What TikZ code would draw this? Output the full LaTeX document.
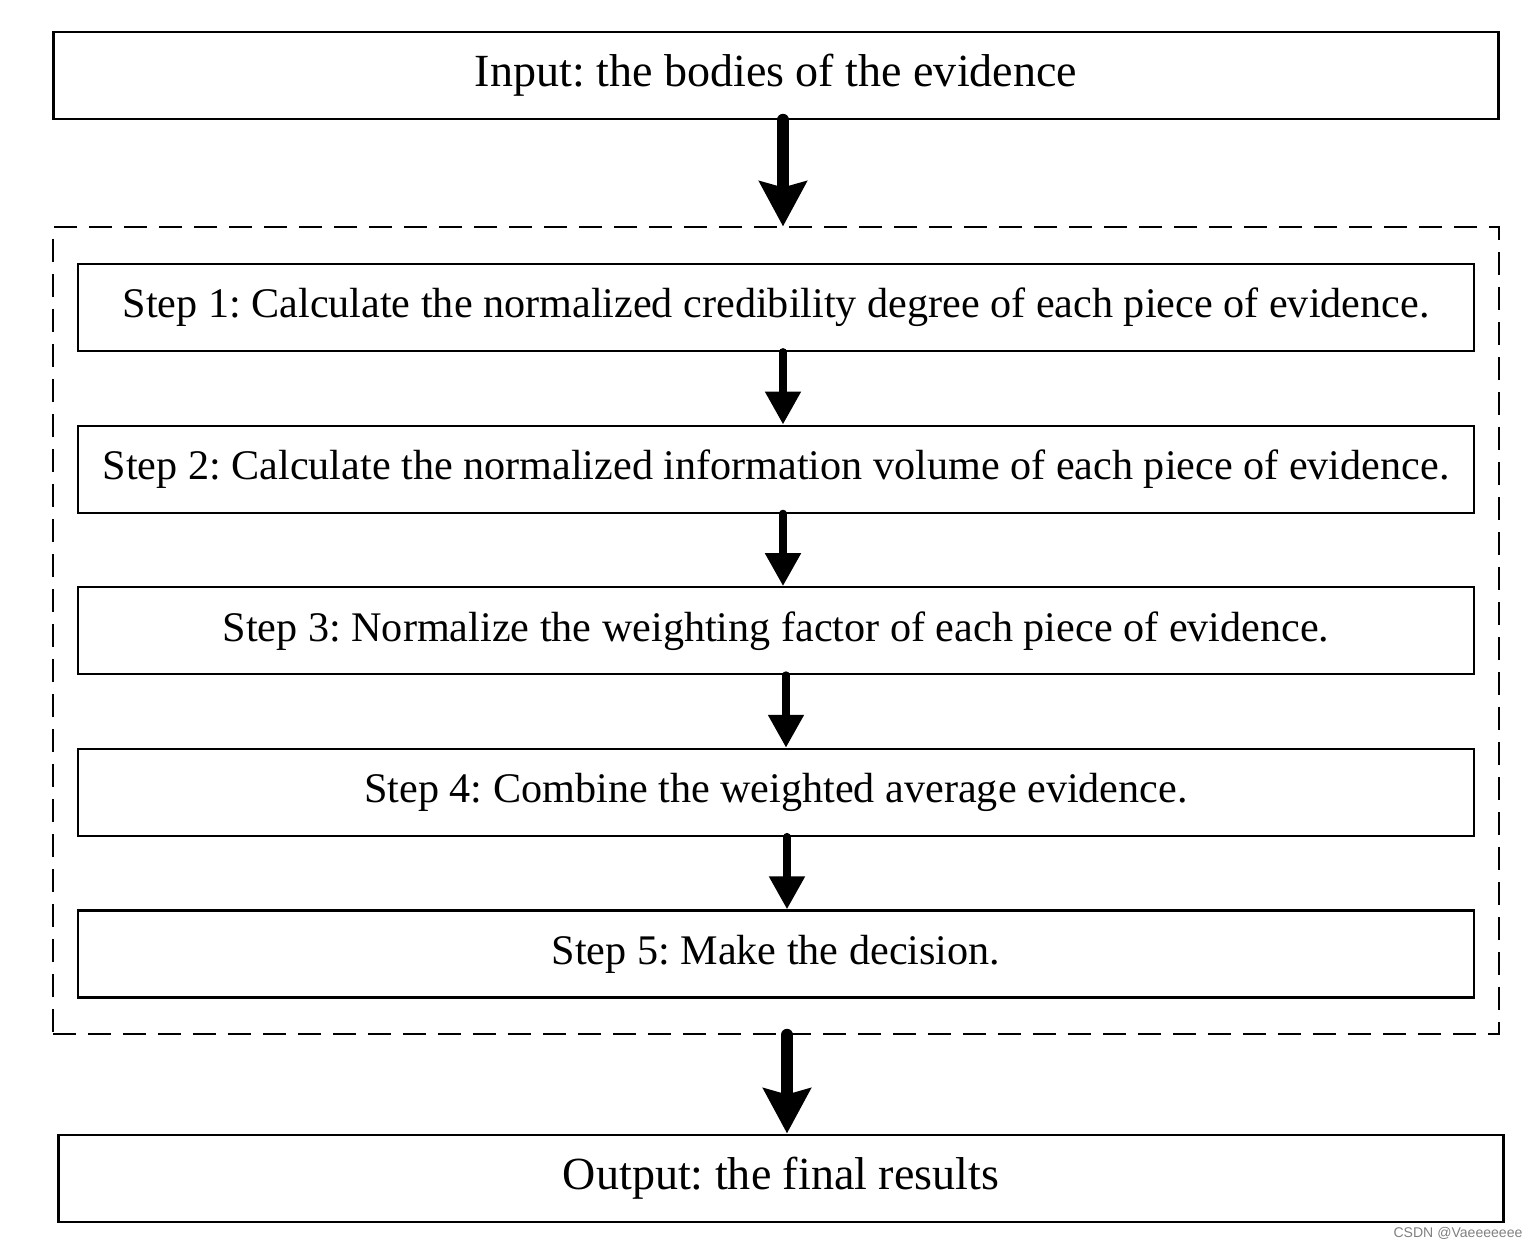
\documentclass[tikz,border=0pt]{standalone}
\usepackage{fontspec}
\setmainfont{Liberation Serif}
\newfontfamily\marksans{Liberation Sans}
\usepackage{xcolor}
\usepackage{tikz}
\usetikzlibrary{positioning, fit, arrows.meta}
\frenchspacing

\begin{document}
\begin{tikzpicture}[node distance=1.45cm, font=\fontsize{24}{29}\selectfont,
  stepbox/.style={draw, line width=1.2pt, align=center, inner xsep=0.1cm, minimum width=27.92cm, minimum height=1.74cm},
  endbox/.style={draw, line width=1.2pt, align=center, minimum width=28.9cm, minimum height=1.74cm, font=\fontsize{26.2}{31}\selectfont},
  smallarrow/.style={line width=4.5pt, line cap=round, -{Triangle[width=0.68cm, length=0.66cm]}},
  bigarrow/.style={line width=7pt, line cap=round, -{Stealth[width=0.94cm, length=0.9cm, inset=0.12cm]}}]
\useasboundingbox (-15.52,6.15) rectangle (15.22,-18.81);
\node[stepbox] (s1) at (0,0) {Step 1: Calculate the normalized credibility degree of each piece of evidence.};
\node[stepbox, below=of s1] (s2) {Step 2: Calculate the normalized information volume of each piece of evidence.};
\node[stepbox, below=of s2] (s3) {Step 3: Normalize the weighting factor of each piece of evidence.};
\node[stepbox, below=of s3] (s4) {Step 4: Combine the weighted average evidence.};
\node[stepbox, below=of s4] (s5) {Step 5: Make the decision.};
\node[draw, dashed, line width=1.1pt, dash pattern=on 0.46cm off 0.24cm, inner xsep=0.48cm, inner ysep=0.71cm, fit=(s1)(s5)] (frame) {};
\node[endbox, above=2.86cm of s1] (input) {Input: the bodies of the evidence};
\node[endbox, below=2.7cm of s5, xshift=0.1cm] (output) {Output: the final results};
\node[text=gray, font=\marksans\fontsize{8}{10}\selectfont] (mark) at (13.64,-18.51) {CSDN @Vaeeeeeee};
\draw[bigarrow] ([xshift=0.14cm]input.south) -- ([xshift=0.14cm]frame.north);
\draw[smallarrow] ([xshift=0.14cm]s1.south) -- ([xshift=0.14cm]s2.north);
\draw[smallarrow] ([xshift=0.14cm]s2.south) -- ([xshift=0.14cm]s3.north);
\draw[smallarrow] ([xshift=0.2cm]s3.south) -- ([xshift=0.2cm]s4.north);
\draw[smallarrow] ([xshift=0.22cm]s4.south) -- ([xshift=0.22cm]s5.north);
\draw[bigarrow] ([xshift=0.22cm]frame.south) -- ([xshift=0.12cm]output.north);
\end{tikzpicture}
\end{document}
